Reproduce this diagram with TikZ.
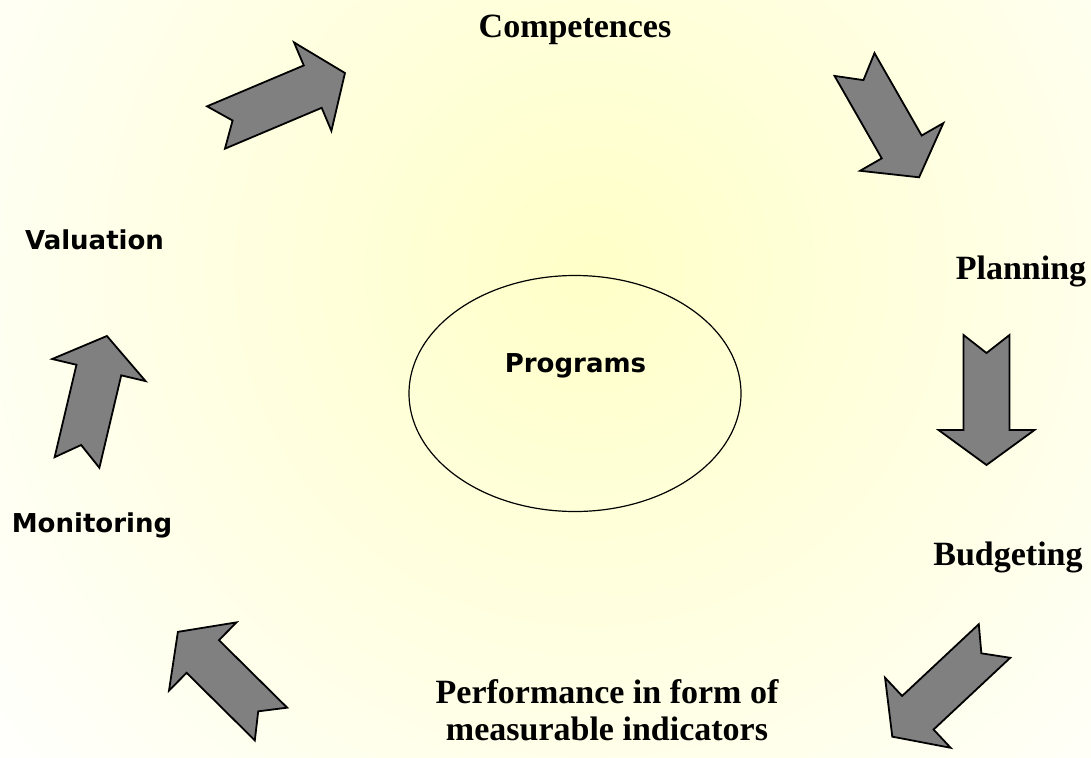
\documentclass[tikz,border=0pt]{standalone}
\usepackage{fontspec}
\setmainfont{Liberation Serif}
\newfontfamily\versans{DejaVu Sans}
\definecolor{glow}{RGB}{255,255,200}
\tikzset{
    blockarrow/.style={fill=gray,draw=black,line width=1.8pt,line join=miter},
    serifword/.style={font=\fontsize{34}{37}\selectfont\bfseries,anchor=base,inner sep=0pt},
    sansword/.style={font=\versans\fontsize{26}{30}\selectfont\bfseries,anchor=base,inner sep=0pt},
    hub/.style={black,line width=1.2pt},
    notched/.pic={
        \draw[blockarrow](0,-23)--(#1-35,-23)--(#1-35,-48)--(#1,0)
            --(#1-35,48)--(#1-35,23)--(0,23)--(18,0)--cycle;
    }
}

\begin{document}
\begin{tikzpicture}[x=1pt,y=-1pt]
\useasboundingbox(0,0)rectangle(1091,757);
% yellow glow behind everything
\begin{scope}
\clip(0,0)rectangle(1091,757);
\fill[inner color=glow,outer color=white](590,270)circle(800pt);
\end{scope}

\draw[hub](575,393.5)ellipse[x radius=166pt,y radius=118pt];

% the six arrows of the cycle: tail x / tail y / angle / length
\foreach \x/\y/\a/\l in {216/127.5/22.9/140, 854.5/64.5/-60.2/130, 986.5/335/-90/130,
                         994.5/641/-136.9/140, 271/724/135.3/131, 77/462.5/76.7/130}
    \pic[rotate=\a] at (\x,\y) {notched=\l};

\node[serifword](comp) at (575,38){Competences};
\node[serifword](plan) at (1021,279){Planning};
\node[serifword](budg) at (1008,565){Budgeting};
% base of a two-line node sits on its last line
\node[serifword,align=center](perf) at (607,740){Performance in form of\\measurable indicators};
\node[sansword](valu) at (94.5,249){Valuation};
\node[sansword](moni) at (92,532){Monitoring};
\node[sansword](prog) at (575.5,372){Programs};
\end{tikzpicture}
\end{document}
